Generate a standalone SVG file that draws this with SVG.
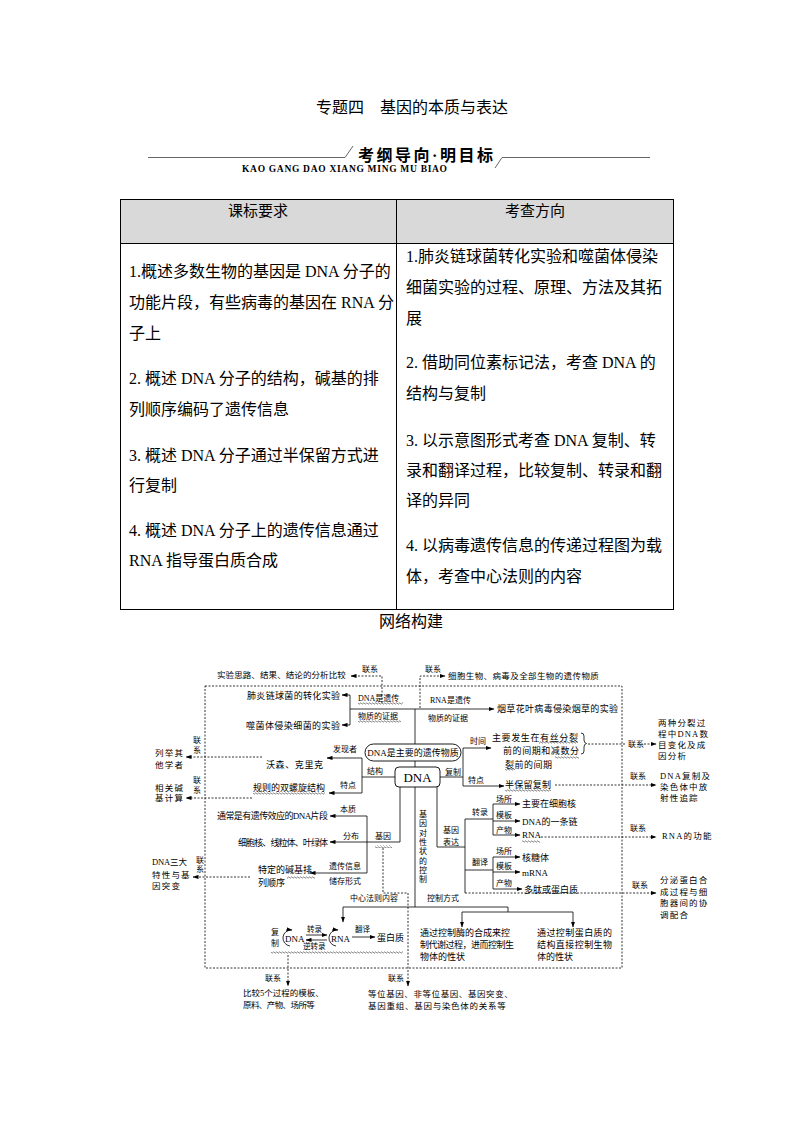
<svg xmlns="http://www.w3.org/2000/svg" width="794" height="1123" viewBox="0 0 794 1123">
<defs>
<style>
text{font-family:"Liberation Serif","Noto Sans CJK SC",serif;fill:#000;}
.ttl{font-size:16px;}
.ban{font-size:16px;font-weight:bold;}
.sub{font-size:9.5px;font-weight:bold;}
.hd{font-size:15px;text-anchor:middle;}
.tb{font-size:16px;}
.m{font-size:9px;}
.s{font-size:8px;}
.n{font-size:8.5px;letter-spacing:1.2px;}
.ln{stroke:#000;stroke-width:0.8;fill:none;}
.ds{stroke:#000;stroke-width:0.8;fill:none;stroke-dasharray:2 1.5;}
.ar{marker-end:url(#ah);}
.wv{fill:url(#wv);}
.bx{fill:#fff;stroke:#000;stroke-width:0.9;}
</style>
<marker id="ah" markerUnits="userSpaceOnUse" markerWidth="6" markerHeight="5" refX="5.5" refY="2.5" orient="auto"><path d="M0 0.4 L6 2.5 L0 4.6 z" fill="#000"/></marker>
<pattern id="wv" width="3" height="3" patternUnits="userSpaceOnUse"><path d="M0 1.5 Q0.75 0.2 1.5 1.5 T3 1.5" fill="none" stroke="#000" stroke-width="0.5"/></pattern>
</defs>
<rect width="794" height="1123" fill="#fff"/>

<g id="title">
<text class="ttl" x="316" y="113">专题四　基因的本质与表达</text>
</g>
<g id="banner">
<line x1="148" y1="157.5" x2="345" y2="157.5" stroke="#666" stroke-width="1"/>
<line x1="345" y1="157.5" x2="353" y2="146" stroke="#666" stroke-width="1"/>
<text class="ban" x="358" y="161" textLength="135" lengthAdjust="spacing">考纲导向·明目标</text>
<line x1="502" y1="157.5" x2="495" y2="168" stroke="#666" stroke-width="1"/>
<line x1="502" y1="157.5" x2="650" y2="157.5" stroke="#666" stroke-width="1"/>
<text class="sub" x="242" y="172" textLength="205" lengthAdjust="spacing">KAO GANG DAO XIANG MING MU BIAO</text>
</g>

<g id="table">
<rect x="120.5" y="199.5" width="553" height="44" fill="#d9d9d9"/>
<rect x="120.5" y="199.5" width="553" height="410" fill="none" stroke="#000" stroke-width="1"/>
<line x1="120.5" y1="243.5" x2="673.5" y2="243.5" stroke="#000" stroke-width="1"/>
<line x1="396.5" y1="199.5" x2="396.5" y2="609.5" stroke="#000" stroke-width="1"/>
<text class="hd" x="258" y="216">课标要求</text>
<text class="hd" x="535" y="216">考查方向</text>
<text class="tb" x="129" y="277">1.概述多数生物的基因是 DNA 分子的</text>
<text class="tb" x="129" y="308">功能片段，有些病毒的基因在 RNA 分</text>
<text class="tb" x="129" y="339">子上</text>
<text class="tb" x="129" y="384">2.  概述 DNA 分子的结构，碱基的排</text>
<text class="tb" x="129" y="415">列顺序编码了遗传信息</text>
<text class="tb" x="129" y="461">3.  概述 DNA 分子通过半保留方式进</text>
<text class="tb" x="129" y="491">行复制</text>
<text class="tb" x="129" y="536">4.  概述 DNA 分子上的遗传信息通过</text>
<text class="tb" x="129" y="566">RNA 指导蛋白质合成</text>
<text class="tb" x="406" y="262">1.肺炎链球菌转化实验和噬菌体侵染</text>
<text class="tb" x="406" y="293">细菌实验的过程、原理、方法及其拓</text>
<text class="tb" x="406" y="324">展</text>
<text class="tb" x="406" y="368">2.  借助同位素标记法，考查 DNA 的</text>
<text class="tb" x="406" y="399">结构与复制</text>
<text class="tb" x="406" y="446">3.  以示意图形式考查 DNA 复制、转</text>
<text class="tb" x="406" y="476">录和翻译过程，比较复制、转录和翻</text>
<text class="tb" x="406" y="506">译的异同</text>
<text class="tb" x="406" y="551">4.  以病毒遗传信息的传递过程图为载</text>
<text class="tb" x="406" y="582">体，考查中心法则的内容</text>
</g>
<g id="subtitle">
<text class="tb" x="411" y="627" text-anchor="middle">网络构建</text>
</g>

<g id="frame">
<rect x="205" y="686" width="417" height="282" class="ds"/>
</g>

<g id="connectors">
<path class="ds ar" d="M382 703 V676 H351"/>
<path class="ds ar" d="M420 708 V676 H445"/>
<path class="ln" d="M350 695 V725"/>
<path class="ln ar" d="M350 695 H342"/>
<path class="ln ar" d="M350 725 H342"/>
<path class="ln ar" d="M350 709 H494"/>
<path class="ln" d="M415 709 V767"/>
<path class="ln" d="M395 777 H362 M362 758 V793"/>
<path class="ln ar" d="M362 758 H327"/>
<path class="ln ar" d="M362 793 H329"/>
<path class="ds ar" d="M262 757 H186"/>
<path class="ds ar" d="M252 798 H186"/>
<path class="ln" d="M440 777 H463 M463 748 V786"/>
<path class="ln ar" d="M463 748 H491"/>
<path class="ln ar" d="M463 786 H504"/>
<path class="ds" d="M588 744 H625"/>
<path class="ds ar" d="M644 744 H656"/>
<path class="ds ar" d="M555 785 H656"/>
<path class="ln" d="M437 787 V847 H465 M465 819 V893 M465 819 H493 M493 804 V835 M465 870 H493 M493 857 V889"/>
<path class="ln ar" d="M493 804 H520"/>
<path class="ln ar" d="M493 821 H520"/>
<path class="ln ar" d="M493 835 H520"/>
<path class="ln ar" d="M493 857 H520"/>
<path class="ln ar" d="M493 872 H520"/>
<path class="ln ar" d="M493 889 H522"/>
<path class="ds ar" d="M541 837 H656"/>
<path class="ds ar" d="M465 893 H656"/>
<path class="ln" d="M415 787 V907 M343 907 H508 V912 M462 912 H573"/>
<path class="ln ar" d="M343 907 V922"/>
<path class="ln ar" d="M462 912 V927"/>
<path class="ln ar" d="M573 912 V927"/>
<path class="ln" d="M400 787 V842 H367 M367 816 V873"/>
<path class="ln ar" d="M367 816 H330"/>
<path class="ln ar" d="M367 842 H330"/>
<path class="ln ar" d="M367 873 H310"/>
<path class="ds ar" d="M250 877 H193"/>
<path class="ds ar" d="M383 848 V893 H408 V986"/>
<path class="ds ar" d="M288 955 V986"/>
<path class="ln ar" d="M290 946 A8 8 0 0 1 292 930"/>
<path class="ln ar" d="M336 946 A8 8 0 0 1 338 930"/>
<path class="ln ar" d="M306 935 H327"/>
<path class="ln ar" d="M327 940 H306"/>
<path class="ln ar" d="M352 937 H375"/>
</g>

<g id="n-analysis"><text class="n" x="217" y="678" textLength="130">实验思路、结果、结论的分析比较</text><text class="s" x="362" y="672">联系</text></g>
<g id="n-allorg"><text class="s" x="425" y="672">联系</text><text class="n" x="448" y="679" textLength="152">细胞生物、病毒及全部生物的遗传物质</text></g>
<g id="n-pneumo"><text class="m" x="247" y="698.5" textLength="93">肺炎链球菌的转化实验</text></g>
<g id="n-phage"><text class="m" x="246" y="728.5" textLength="94">噬菌体侵染细菌的实验</text></g>
<g id="n-dna-evid"><text class="s" x="358" y="701">DNA是遗传</text><text class="s" x="358" y="719">物质的证据</text><rect class="wv" x="358" y="702" width="45" height="3"/><rect class="wv" x="358" y="720" width="43" height="3"/></g>
<g id="n-rna-evid"><text class="s" x="430" y="703">RNA是遗传</text><text class="s" x="428" y="721">物质的证据</text></g>
<g id="n-tmv"><text class="m" x="497" y="711.5" textLength="121">烟草花叶病毒侵染烟草的实验</text></g>
<g id="n-main"><rect class="bx" x="365" y="744" width="96" height="17" rx="8.5"/><text class="m" x="413" y="755.5" text-anchor="middle">DNA是主要的遗传物质</text></g>
<g id="n-dna"><rect class="bx" x="395" y="767" width="45" height="20" rx="4"/><text x="417.5" y="781.5" font-size="13" text-anchor="middle">DNA</text></g>

<g id="n-structure">
<text class="s" x="333" y="752">发现者</text>
<text class="m" x="266" y="767.5" textLength="57">沃森、克里克</text>
<text class="s" x="367" y="774">结构</text>
<text class="s" x="340" y="788">特点</text>
<text class="m" x="253" y="791" textLength="72">规则的双螺旋结构</text>
<rect class="wv" x="253" y="792" width="72" height="3"/>
</g>
<g id="n-others"><text class="n" x="155" y="756">列举其</text><text class="n" x="155" y="768">他学者</text><text class="s" x="193" y="743">联</text><text class="s" x="193" y="753">系</text></g>
<g id="n-calc"><text class="n" x="155" y="791">相关碱</text><text class="n" x="155" y="801">基计算</text><text class="s" x="193" y="783">联</text><text class="s" x="193" y="793">系</text></g>

<g id="n-replication">
<text class="s" x="445" y="774.5">复制</text>
<text class="s" x="470" y="744">时间</text>
<text class="m" x="492" y="740.5" textLength="86">主要发生在有丝分裂</text>
<text class="m" x="503" y="754" textLength="76">前的间期和减数分</text>
<text class="m" x="505" y="767.5" textLength="47">裂前的间期</text>
<rect class="wv" x="539" y="741" width="39" height="3"/>
<rect class="wv" x="555" y="756" width="24" height="3"/>
<rect class="wv" x="505" y="768" width="10" height="3"/>
<path class="ln" d="M581 733 q3 0 3 3 v4 q0 3 2.5 3.5 q-2.5 0.5 -2.5 3.5 v4 q0 3 -3 3"/>
<text class="s" x="628" y="747">联系</text>
<text class="s" x="468" y="783">特点</text>
<text class="m" x="505" y="787.5" textLength="46">半保留复制</text>
<rect class="wv" x="505" y="789" width="46" height="3"/>
<text class="s" x="630" y="779">联系</text>
</g>
<g id="n-meiosis"><text class="n" x="658" y="726">两种分裂过</text><text class="n" x="658" y="737">程中DNA数</text><text class="n" x="658" y="748">目变化及成</text><text class="n" x="658" y="759">因分析</text></g>
<g id="n-tracer"><text class="n" x="660" y="779">DNA复制及</text><text class="n" x="660" y="790">染色体中放</text><text class="n" x="660" y="801">射性追踪</text></g>

<g id="n-expression">
<text class="s" x="443" y="833">基因</text>
<text class="s" x="443" y="845">表达</text>
<text class="s" x="472" y="815">转录</text>
<text class="s" x="496" y="801.5">场所</text>
<text class="s" x="496" y="818">模板</text>
<text class="s" x="496" y="832.5">产物</text>
<text class="m" x="522" y="806.5">主要在细胞核</text>
<text class="m" x="522" y="824.5">DNA的一条链</text>
<text class="m" x="522" y="838">RNA</text>
<rect class="wv" x="522" y="840" width="18" height="3"/>
<text class="s" x="472" y="865">翻译</text>
<text class="s" x="496" y="853.5">场所</text>
<text class="s" x="496" y="869">模板</text>
<text class="s" x="496" y="886">产物</text>
<text class="m" x="522" y="860.5">核糖体</text>
<text class="m" x="522" y="875.5">mRNA</text>
<text class="m" x="524" y="892.5">多肽或蛋白质</text>
<text class="s" x="630" y="831">联系</text>
<text class="s" x="632" y="888">联系</text>
</g>
<g id="n-rnafunc"><text class="n" x="662" y="839">RNA的功能</text></g>
<g id="n-secretion"><text class="n" x="660" y="883">分泌蛋白合</text><text class="n" x="660" y="895">成过程与细</text><text class="n" x="660" y="906">胞器间的协</text><text class="n" x="660" y="918">调配合</text></g>

<g id="n-trait">
<text class="s" x="419" y="817">基</text><text class="s" x="419" y="826.3">因</text><text class="s" x="419" y="835.6">对</text><text class="s" x="419" y="844.9">性</text><text class="s" x="419" y="854.2">状</text><text class="s" x="419" y="863.5">的</text><text class="s" x="419" y="872.8">控</text><text class="s" x="419" y="882.1">制</text>
</g>

<g id="n-gene">
<text class="s" x="375" y="839">基因</text>
<rect class="wv" x="375" y="845" width="17" height="3"/>
<text class="s" x="340" y="812">本质</text>
<text class="m" x="217" y="818.5" textLength="111">通常是有遗传效应的DNA片段</text>
<text class="s" x="343" y="838.5">分布</text>
<text class="m" x="238" y="845.5" textLength="90">细胞核、线粒体、叶绿体</text>
<text class="s" x="329" y="869">遗传信息</text>
<text class="s" x="329" y="884">储存形式</text>
<text class="m" x="258" y="873">特定的碱基排</text>
<text class="m" x="258" y="886">列顺序</text>
<rect class="wv" x="287" y="876" width="28" height="3"/>
</g>
<g id="n-three"><text x="152" y="865" font-size="8.5" textLength="35">DNA三大</text><text class="n" x="152" y="878">特性与基</text><text class="n" x="152" y="889">因突变</text><text class="s" x="196" y="863">联</text><text class="s" x="196" y="872">系</text></g>

<g id="n-dogma">
<text class="s" x="350" y="901">中心法则内容</text>
<text class="s" x="427" y="901">控制方式</text>
<text class="s" x="271" y="935">复</text>
<text class="s" x="271" y="946">制</text>
<text x="285" y="941.5" font-size="9">DNA</text>
<text x="307" y="932" font-size="7.5">转录</text>
<text x="303" y="949" font-size="7.5">逆转录</text>
<text x="331" y="941.5" font-size="9">RNA</text>
<text x="355" y="932" font-size="7.5">翻译</text>
<text class="m" x="377" y="941">蛋白质</text>
<rect class="wv" x="271" y="951" width="132" height="3"/>
</g>
<g id="n-enzyme"><text class="m" x="420" y="936" textLength="90">通过控制酶的合成来控</text><text class="m" x="420" y="948" textLength="94">制代谢过程，进而控制生</text><text class="m" x="420" y="960">物体的性状</text></g>
<g id="n-protein"><text class="m" x="537" y="936" textLength="75">通过控制蛋白质的</text><text class="m" x="537" y="948" textLength="75">结构直接控制生物</text><text class="m" x="537" y="960">体的性状</text></g>
<g id="n-compare"><text class="s" x="265" y="981">联系</text><text class="n" x="243" y="996" textLength="82">比较5个过程的模板、</text><text class="n" x="243" y="1008" textLength="73">原料、产物、场所等</text></g>
<g id="n-allele"><text class="s" x="388" y="981">联系</text><text class="n" x="368" y="997" textLength="146">等位基因、非等位基因、基因突变、</text><text class="n" x="368" y="1009" textLength="139">基因重组、基因与染色体的关系等</text></g>
</svg>
